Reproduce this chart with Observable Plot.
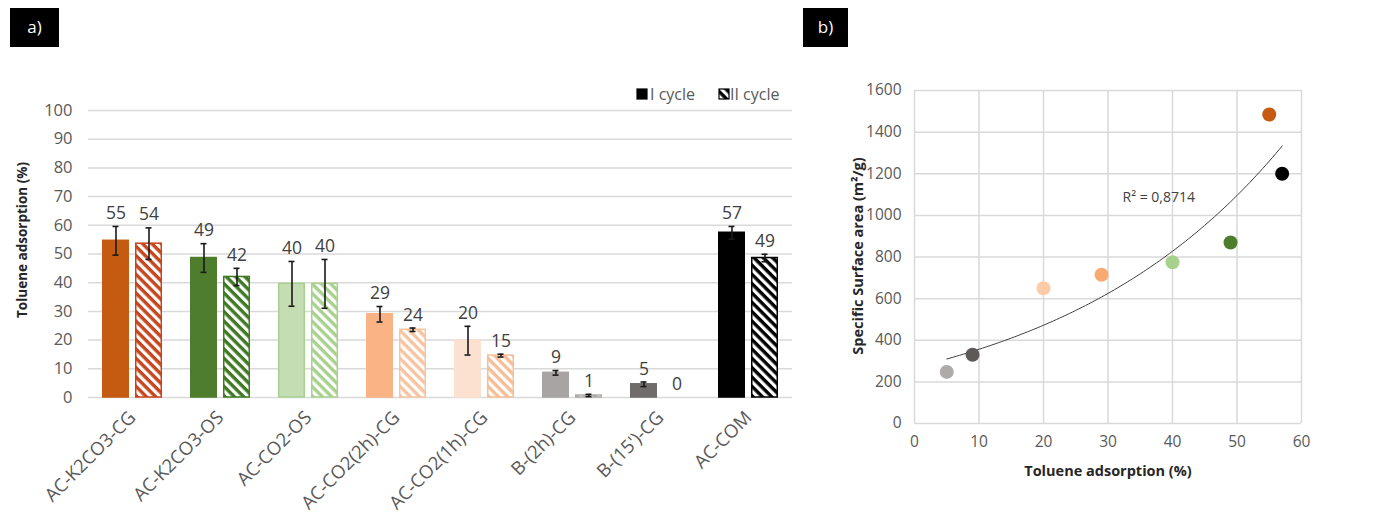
<!DOCTYPE html>
<html><head><meta charset="utf-8">
<script src="https://cdn.jsdelivr.net/npm/d3@7"></script>
<script src="https://cdn.jsdelivr.net/npm/@observablehq/plot@0.6"></script>
<style>
body{margin:0;background:#fff;font-family:"Open Sans",sans-serif;}
#wrap{position:relative;width:1386px;height:530px;overflow:hidden;background:#fff;}
.abs{position:absolute;}
.tag{position:absolute;background:#000;color:#fff;font-size:17px;height:39px;line-height:38px;text-align:center;}
.vtitle{position:absolute;transform:translate(-50%,-50%) rotate(-90deg);white-space:nowrap;font-weight:700;color:#262626;}
.htitle{position:absolute;transform:translate(-50%,-50%);white-space:nowrap;font-weight:700;color:#262626;}
.leg{position:absolute;font-size:16px;color:#595959;white-space:nowrap;line-height:20px;}
</style></head>
<body>
<svg width="0" height="0" style="position:absolute"><defs id="defs"></defs></svg>
<div id="wrap">
  <div id="a" class="abs" style="left:0;top:0"></div>
  <div id="b" class="abs" style="left:800px;top:0"></div>
  <div class="tag" style="left:10px;top:8px;width:49px;">a)</div>
  <div class="tag" style="left:803px;top:8px;width:45px;">b)</div>
  <div id="legend"></div>
  <div class="vtitle" style="left:22px;top:240px;font-size:13.5px;">Toluene adsorption (%)</div>
  <div class="vtitle" style="left:857px;top:256px;font-size:14.5px;">Specific Surface area (m²/g)</div>
  <div class="htitle" style="left:1108px;top:470px;font-size:14.5px;">Toluene adsorption (%)</div>
</div>
<script>
// ---- Panel a data ----
const categories = ["AC-K2CO3-CG","AC-K2CO3-OS","AC-CO2-OS","AC-CO2(2h)-CG","AC-CO2(1h)-CG","B-(2h)-CG","B-(15')-CG","AC-COM"];
const cycles = ["I","II"];
const cycleI  = [54.6, 48.6, 39.6, 29.0, 19.8, 8.6, 4.6, 57.4];
const cycleII = [53.6, 42.0, 39.6, 23.6, 14.6, 0.7, 0, 48.6];
const errI  = [5.0, 5.0, 7.8, 2.7, 5.0, 0.8, 0.8, 2.2];
const errII = [5.5, 3.0, 8.5, 0.6, 0.5, 0.4, 0, 1.3];
const labelsI  = ["55","49","40","29","20","9","5","57"];
const labelsII = ["54","42","40","24","15","1","0","49"];
const yTicksA = [0,10,20,30,40,50,60,70,80,90,100];
const legendLabels = ["I cycle","II cycle"];
const solidFill   = ["#C55A11","#4E7D2D","#C5DDB3","#F9B384","#FCE0D0","#A8A4A4","#716C6C","#000000"];
const solidStroke = ["#C55A11","#4E7D2D","#A9D18E","#F9B384","#FCE0D0","#A8A4A4","#716C6C","#000000"];
const hatchColor  = ["#C8441A","#3F7A22","#A9D18E","#F8C4A0","#F6BE97","#AEAAAA","#716C6C","#000000"];

// ---- Panel b data ----
const scatterX = [5, 9, 20, 29, 40, 49, 55, 57];
const scatterY = [248, 330, 650, 715, 775, 870, 1485, 1200];
const scatterColor = ["#AEAAAA","#5E5959","#FCCBA8","#F9A972","#A9D18E","#4E7D2D","#C55A11","#000000"];
const xTicksB = [0,10,20,30,40,50,60];
const yTicksB = [0,200,400,600,800,1000,1200,1400,1600];
const r2Label = "R² = 0,8714";

// ---- hatch patterns ----
const defs = d3.select("#defs");
const patColors = hatchColor.concat(["#000000"]);
patColors.forEach((c,i)=>{
  const p = defs.append("pattern").attr("id","hatch"+i).attr("patternUnits","userSpaceOnUse")
    .attr("width",6.6).attr("height",6.6).attr("patternTransform","rotate(45)");
  p.append("rect").attr("width",6.6).attr("height",6.6).attr("fill","#fff");
  p.append("rect").attr("width",6.6).attr("height",3.4).attr("fill",c);
});

const rows = [];
categories.forEach((c,i)=>{
  rows.push({cat:c, cycle:"I", value:cycleI[i], err:errI[i], label:labelsI[i], fill:solidFill[i], stroke:solidStroke[i]});
  rows.push({cat:c, cycle:"II", value:cycleII[i], err:errII[i], label:labelsII[i], fill:`url(#hatch${i})`, stroke:hatchColor[i]});
});
const errRows = rows.filter(d=>d.err>0);
const barRows = rows.filter(d=>d.value>0);

const chartA = Plot.plot({
  width: 800, height: 530,
  marginLeft: 84, marginRight: 5, marginTop: 110, marginBottom: 133,
  style: {fontFamily: "Open Sans", fontSize: "16px", color: "#595959", background: "transparent", overflow: "visible"},
  fx: {domain: categories, padding: 0, label: null},
  x: {domain: cycles, paddingInner: 0.176, paddingOuter: 0.393, axis: null},
  y: {domain: [0,100], label: null},
  marks: [
    Plot.gridY(yTicksA, {stroke:"#d9d9d9", strokeOpacity:1, strokeWidth:1.5}),
    Plot.axisY(yTicksA, {tickSize:0, tickPadding:16, fontSize:16.5, label:null}),
    Plot.axisFx({anchor:"bottom", tickRotate:-45, tickSize:0, tickPadding:17, fontSize:18.5, label:null}),
    Plot.barY(barRows, {fx:"cat", x:"cycle", y:"value", fill:"fill", stroke:"stroke", strokeWidth:1.5, insetLeft:0.75, insetRight:0.75}),
    Plot.ruleX(errRows, {fx:"cat", x:"cycle", y1:d=>d.value-d.err, y2:d=>d.value+d.err, stroke:"#1a1a1a", strokeWidth:1.6}),
    Plot.tickY(errRows, {fx:"cat", x:"cycle", y:d=>d.value+d.err, insetLeft:10.5, insetRight:10.5, stroke:"#1a1a1a", strokeWidth:1.6}),
    Plot.tickY(errRows, {fx:"cat", x:"cycle", y:d=>d.value-d.err, insetLeft:10.5, insetRight:10.5, stroke:"#1a1a1a", strokeWidth:1.6}),
    Plot.text(rows, {fx:"cat", x:"cycle", y:d=>d.value+d.err, text:"label", dy:-13, fontSize:17.5, fill:"#404040"})
  ]
});
document.getElementById("a").appendChild(chartA);

// legend
const leg = d3.select("#legend");
[[636, 650, "#000", "#000"], [718, 730, "url(#hatch8)", "#000"]].forEach(([sx, tx, f, s], i) => {
  const sv = leg.append("svg").attr("class","abs").style("left", sx+"px").style("top","88px").attr("width",12).attr("height",12);
  sv.append("rect").attr("x",1).attr("y",1).attr("width",10).attr("height",10).attr("fill",f).attr("stroke",s).attr("stroke-width",1.2);
  leg.append("div").attr("class","leg").style("left", tx+"px").style("top","84px").text(legendLabels[i]);
});

// ---- Panel b ----
const pts = scatterX.map((x,i)=>({x, y:scatterY[i], color:scatterColor[i]}));
// exponential trendline fit (log-linear least squares), as in the spreadsheet
const lx = scatterX, ly = scatterY.map(Math.log);
const mx = d3.mean(lx), my = d3.mean(ly);
const b = d3.sum(lx, (x,i)=>(x-mx)*(ly[i]-my)) / d3.sum(lx, x=>(x-mx)**2);
const a = Math.exp(my - b*mx);
const [x0, x1] = d3.extent(scatterX);
const trend = d3.range(x0, x1 + 0.001, 0.5).map(x=>({x, y:a*Math.exp(b*x)}));

const chartB = Plot.plot({
  width: 586, height: 530,
  marginLeft: 114, marginRight: 85, marginTop: 90, marginBottom: 107,
  style: {fontFamily: "Open Sans", fontSize: "15px", color: "#595959", background: "transparent", overflow: "visible"},
  x: {domain: [0,60], label: null},
  y: {domain: [0,1600], label: null},
  marks: [
    Plot.gridX(xTicksB, {stroke:"#d9d9d9", strokeOpacity:1, strokeWidth:1.5}),
    Plot.gridY(yTicksB, {stroke:"#d9d9d9", strokeOpacity:1, strokeWidth:1.5}),
    Plot.axisX(xTicksB, {tickSize:0, tickPadding:12, fontSize:15.5, label:null, tickFormat:d=>String(d)}),
    Plot.axisY(yTicksB, {tickSize:0, tickPadding:13, fontSize:15.5, label:null, tickFormat:d=>String(d)}),
    Plot.line(trend, {x:"x", y:"y", stroke:"#404040", strokeWidth:1}),
    Plot.dot(pts, {x:"x", y:"y", r:7, fill:"color"}),
    Plot.text([r2Label], {text:d=>d, frameAnchor:"top-left", dx:208, dy:102, textAnchor:"start", fontSize:14, fill:"#404040"})
  ]
});
document.getElementById("b").appendChild(chartB);
</script>
</body></html>
